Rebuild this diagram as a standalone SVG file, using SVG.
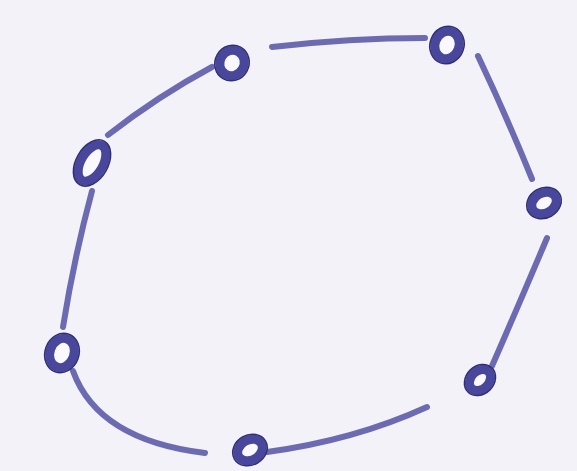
<svg xmlns="http://www.w3.org/2000/svg" width="577" height="471" viewBox="0 0 577 471">
<style>
.edge{fill:none;stroke:#5d5caa;stroke-width:6;stroke-linecap:round;opacity:0.9}
.ring{fill:#f8f8fd;stroke:#48479c;stroke-width:9}
.rim{fill:none;stroke:#2f2e78;stroke-width:1.5}
</style>
<rect width="577" height="471" fill="#f3f2f9"/>
<g id="connectors">
<path class="edge" d="M108,135 Q158,96 212,67"/>
<path class="edge" d="M272,47 Q350,38 425,38"/>
<path class="edge" d="M478,56 Q506,115 532,179"/>
<path class="edge" d="M547,238 Q520,302 492,366"/>
<path class="edge" d="M427,407 Q355,440 267,452"/>
<path class="edge" d="M73,371 Q98,440 205,453"/>
<path class="edge" d="M63,327 Q74,258 92,191"/>
</g>
<g id="node1"><ellipse class="ring" cx="232" cy="63" rx="12" ry="13" transform="rotate(30 232 63)"/><ellipse class="rim" cx="232" cy="63" rx="17" ry="18" transform="rotate(30 232 63)"/></g>
<g id="node2"><ellipse class="ring" cx="447" cy="45" rx="12" ry="14" transform="rotate(20 447 45)"/><ellipse class="rim" cx="447" cy="45" rx="17" ry="19" transform="rotate(20 447 45)"/></g>
<g id="node3"><ellipse class="ring" cx="544" cy="203" rx="13" ry="10" transform="rotate(-30 544 203)"/><ellipse class="rim" cx="544" cy="203" rx="18" ry="15" transform="rotate(-30 544 203)"/></g>
<g id="node4"><ellipse class="ring" cx="480" cy="380" rx="12" ry="9" transform="rotate(-45 480 380)"/><ellipse class="rim" cx="480" cy="380" rx="17" ry="14" transform="rotate(-45 480 380)"/></g>
<g id="node5"><ellipse class="ring" cx="250" cy="450" rx="13" ry="10" transform="rotate(-30 250 450)"/><ellipse class="rim" cx="250" cy="450" rx="18" ry="15" transform="rotate(-30 250 450)"/></g>
<g id="node6"><ellipse class="ring" cx="62" cy="353" rx="12" ry="15" transform="rotate(20 62 353)"/><ellipse class="rim" cx="62" cy="353" rx="17" ry="20" transform="rotate(20 62 353)"/></g>
<g id="node7"><ellipse class="ring" cx="92" cy="163" rx="11" ry="20" transform="rotate(30 92 163)"/><ellipse class="rim" cx="92" cy="163" rx="16" ry="25" transform="rotate(30 92 163)"/></g>
</svg>
